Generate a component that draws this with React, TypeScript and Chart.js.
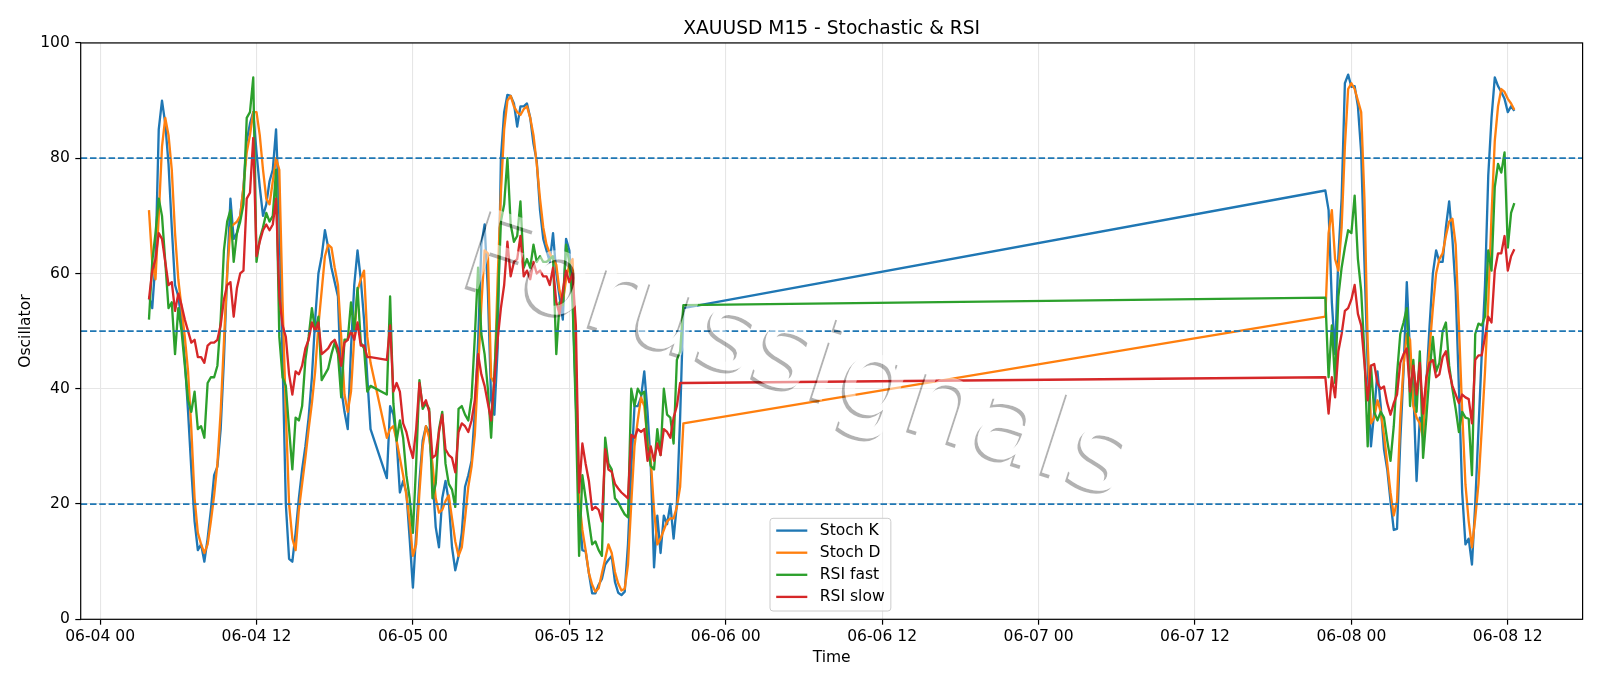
import React, { useEffect, useRef } from "react";
import { Chart, registerables } from "chart.js";

Chart.register(...registerables);

const FONT = '"DejaVu Sans", "Liberation Sans", sans-serif';

const TITLE = "XAUUSD M15 - Stochastic & RSI";
const X_LABEL = "Time";
const Y_LABEL = "Oscillator";
const WATERMARK = "Forussignals";

// M15 bars: each segment starts at this time and steps 15 minutes
const segmentStarts = ["06-04 03:45", "06-04 22:00", "06-07 22:00"];

const xTickHours = [0, 12, 24, 36, 48, 60, 72, 84, 96, 108];
const xTickLabels = [
  "06-04 00", "06-04 12", "06-05 00", "06-05 12", "06-06 00",
  "06-06 12", "06-07 00", "06-07 12", "06-08 00", "06-08 12",
];
const refLevels = [20, 50, 80];

// Stoch K
const kSeg1 = [
  56, 54, 62, 85, 90, 86, 79, 68, 58, 56,
  52, 45, 36, 26, 17, 12, 13, 10, 14, 19,
  25, 26.5, 33, 45, 60, 73, 66, 67, 70, 75,
  83, 86, 88, 81, 75, 70, 72, 76, 78, 85,
  70, 45, 20, 10.5, 10, 15, 21, 26, 30, 35,
  42, 52, 60, 63, 67.5, 64.5, 61, 58.5, 56, 40,
  36, 33, 47, 58, 64, 59, 52, 42, 33,
];
const kSeg2 = [
  24.5, 37, 35.5, 31, 22, 24, 22, 14, 5.5, 15,
  24, 31, 33.5, 32.5, 25, 16, 12.5, 21, 24, 20.5,
  12.5, 8.5, 11, 15, 23, 25, 27.5, 36, 48, 65,
  68.5, 57, 38, 35.5, 47, 80, 88, 91, 90.8, 89.5,
  85.5, 89, 89, 89.5, 87, 82.5, 79.5, 71, 66, 64,
  62, 67, 60, 56, 52, 66, 64, 56, 38, 20,
  12, 11.8, 8, 4.5, 4.5, 6, 7, 9.5, 10.3, 11,
  6.5, 4.6, 4.2, 4.8, 13, 26, 37, 37, 38.5, 43,
  36, 26.6, 9, 18, 11.5, 18, 16.5, 20, 14, 20,
  35, 54,
];
const kSeg3 = [
  74.4, 71, 55, 46, 63, 73, 93, 94.5, 92.4, 92.5,
  89, 81, 62, 44, 30, 36, 43, 37, 29.5, 26,
  20.5, 15.5, 15.7, 31, 43, 58.5, 46, 40, 24, 35,
  33.5, 41, 51, 60, 64, 62, 62, 68, 72.5, 66,
  57, 40, 22, 13, 14, 9.5, 20, 33, 46, 58,
  77, 87, 94, 92.5, 91.5, 90.3, 88, 89, 88.2,
];

// Stoch D
const dSeg1 = [
  71, 62, 59, 70, 82, 87, 84, 78, 67, 59,
  54, 49, 43, 33, 21, 15, 13, 11.5, 13, 17,
  21.5, 27, 36, 48, 60, 68, 68.5, 69, 70, 75,
  81, 84, 88, 88, 84, 78, 73, 72, 76, 80,
  78, 55, 36, 20, 14, 12, 19, 23.5, 28, 33,
  37.5, 43, 51, 57, 63, 65, 64.5, 61, 58, 49,
  39, 36, 39.5, 49, 57, 59, 60.5, 49, 44.5,
];
const dSeg2 = [
  31.5, 33, 33.5, 31, 28, 25, 21.5, 17, 11, 13,
  22, 30, 33.5, 31.5, 27, 21, 18.5, 19, 20.5, 21.5,
  17.5, 13.5, 11, 12.5, 17.5, 23, 26.5, 32, 43, 54.5,
  64, 63.5, 42, 41, 59, 74, 85, 90, 90.8, 89,
  88, 87.5, 88.5, 89, 87, 84, 79, 73, 68, 65,
  63.5, 62.5, 61.5, 57, 55, 59, 61.5, 62.5, 45, 21,
  15.5, 12, 8, 6, 4.8, 5.4, 8, 10.5, 13, 11.5,
  8.2, 6.2, 5, 5.3, 9.5, 20, 30, 34.5, 38.5, 37,
  31, 27.5, 19, 13, 14, 15.5, 17, 17.5, 17.5, 19.5,
  23, 34,
];
const dSeg3 = [
  52.5, 67, 71, 62.5, 60.5, 68, 82, 92, 93, 92,
  90, 88, 73, 48, 34, 35, 38, 36, 32, 27,
  22, 18, 20.5, 35, 44, 49.5, 48.5, 37, 35, 34,
  31.5, 41, 47, 54, 60, 62.5, 63.5, 66.5, 69, 69.5,
  65, 51, 36, 23.4, 17, 12.5, 17.5, 23.5, 33, 43,
  55, 70, 83, 89, 92, 91.5, 90.3, 89.5, 88.4,
];

// RSI fast
const fSeg1 = [
  52, 62, 67, 73, 70, 62, 54, 55, 46, 54,
  50, 44, 38, 36, 39.5, 33, 33.5, 31.5, 41, 42,
  42, 44, 52, 64, 69, 71, 62, 67, 69, 72,
  87, 88, 94, 62, 66, 68, 70.5, 69, 70, 78,
  49, 42, 40.5, 33, 26, 35, 34.5, 37, 45, 49,
  54, 50, 52.5, 41.5, 42.5, 43.5, 46, 48, 46, 38.5,
  48.5, 48.5, 55, 50, 57.5, 48, 47, 39.5, 40.5,
];
const fSeg2 = [
  39, 56, 37.5, 31, 34.5, 31.5, 25, 21, 15, 27,
  41.5, 36.5, 37.5, 36.5, 21, 23.5, 33, 36, 27, 23.5,
  22.5, 19.5, 36.5, 37, 35.5, 34.5, 38.5, 49, 61, 49.5,
  46, 40, 31.5, 42.5, 54, 69, 72, 80, 68.5, 65.5,
  66.5, 72.5, 61, 62.5, 61, 65, 62, 63, 62, 62,
  62.5, 63, 46, 55, 54.5, 65, 62, 55, 36, 11,
  25, 21, 17, 13, 13.5, 12, 11, 31.5, 27, 26,
  21, 20.3, 19.2, 18.2, 17.7, 40, 37, 40, 39, 39.5,
  30, 26.6, 26, 33, 28.5, 40, 35.5, 35, 30.5, 45,
  46.5, 54.5,
];
const fSeg3 = [
  55.8, 42, 51, 41, 56, 61, 64.5, 67.5, 67, 73.5,
  62.5, 57, 46, 30, 44, 36, 34.5, 36, 35, 31,
  27.5, 33.5, 42.5, 49.5, 51.5, 54, 37, 45, 36, 46.5,
  28, 35, 43, 49, 43, 44.5, 50, 51.5, 44, 40,
  36.5, 32.5, 36, 35, 34.8, 25, 49.5, 51.3, 51, 52.5,
  64, 60.5, 75, 79, 77.5, 81, 64.5, 70.5, 72.2,
];

// RSI slow
const sSeg1 = [
  55.5, 60.5, 62.5, 67, 66, 62, 58, 58.5, 53.5, 56.5,
  54.5, 52, 50, 48, 48.5, 45.5, 45.5, 44.5, 47.5, 48,
  48, 48.5, 51, 55.5, 58, 58.5, 52.5, 57.5, 60, 60.5,
  73, 74, 83.5, 63, 65.5, 67.5, 68.5, 67.5, 68.5, 73,
  56, 51, 49, 42.5, 39, 43, 42.5, 44, 47, 48.5,
  51.5, 50, 51.5, 46, 46.5, 47, 48, 48.5, 47, 44,
  48, 48.5, 50, 48.5, 51.5, 47.5, 47.5, 45.5, 45.5,
];
const sSeg2 = [
  45, 51, 39.5, 41, 39.5, 34, 32.5, 30, 28, 33,
  41, 37, 38, 36, 28, 28.5, 32.5, 35.5, 29.5, 28.5,
  28, 25.5, 32.5, 34, 33.5, 32.5, 34.5, 38, 46, 42.5,
  40.5, 37.5, 34.5, 41.5, 48.5, 54, 58, 65.5, 59.5, 62,
  62.5, 66.5, 59.5, 60.5, 59, 62, 60, 60.5, 59.5, 59.5,
  58, 61, 55, 53, 57, 60.5, 58.5, 60, 51, 22,
  30.5, 27, 24, 19, 19.5, 19, 17, 29.5, 26, 25.6,
  23.5, 22.7, 22, 21.5, 21, 32, 31.5, 33, 32.5, 33,
  27.5, 30, 27.5, 30.5, 28.5, 33, 32.5, 31.5, 35, 37,
  41, 41,
];
const sSeg3 = [
  42, 35.7, 42, 38.5, 46.5, 49.5, 53.5, 54, 55.5, 58,
  53, 51, 44.5, 38, 44, 44.3, 41, 40, 40.4, 37.5,
  35.5, 37.5, 39, 44.5, 46, 47, 39.5, 44, 39, 44.5,
  35.7, 42, 44.5, 45, 42, 42.5, 45.5, 46.5, 43, 40.5,
  39, 37.5, 39, 38.5, 38.2, 34, 45, 45.8, 45.8, 49,
  52.5, 51.5, 60.5, 63.5, 63.5, 66.5, 60.5, 63, 64.2,
];

const seriesNames = ["Stoch K", "Stoch D", "RSI fast", "RSI slow"];
const seriesColors = ["#1f77b4", "#ff7f0e", "#2ca02c", "#d62728"];
const seriesSegments = [
  [kSeg1, kSeg2, kSeg3],
  [dSeg1, dSeg2, dSeg3],
  [fSeg1, fSeg2, fSeg3],
  [sSeg1, sSeg2, sSeg3],
];

function hoursFromLabel(label: string): number {
  const [md, hm] = label.split(" ");
  const day = parseInt(md.split("-")[1], 10);
  const [h, m] = hm.split(":").map(Number);
  return (day - 4) * 24 + h + m / 60;
}

function buildPoints(segs: number[][]) {
  const pts: { x: number; y: number }[] = [];
  segs.forEach((vals, s) => {
    const start = hoursFromLabel(segmentStarts[s]);
    vals.forEach((v, k) => pts.push({ x: start + k * 0.25, y: v }));
  });
  return pts;
}

const TICK_FS = 15.56;
const TITLE_FS = 18.67;

const overlayPlugin = {
  id: "overlay",
  afterDatasetsDraw(chart: any) {
    const { ctx, chartArea: ca, scales } = chart;
    const w = ca.right - ca.left;
    const h = ca.bottom - ca.top;

    // reference dashed lines
    ctx.save();
    ctx.beginPath();
    ctx.rect(ca.left, ca.top, w, h);
    ctx.clip();
    ctx.strokeStyle = "#1f77b4";
    ctx.lineWidth = 1.7;
    ctx.setLineDash([6.5, 2.8]);
    for (const lv of refLevels) {
      const y = scales.y.getPixelForValue(lv);
      ctx.beginPath();
      ctx.moveTo(ca.left, y);
      ctx.lineTo(ca.right, y);
      ctx.stroke();
    }
    ctx.restore();

    // watermark with shadow
    const cx = 796;
    const cy = 362;
    const ang = (18 * Math.PI) / 180;
    const wmFont = `112px ${FONT}`;
    const off = document.createElement("canvas");
    off.width = chart.width;
    off.height = chart.height;
    const o = off.getContext("2d")!;
    o.font = wmFont;
    o.textAlign = "center";
    o.textBaseline = "middle";
    o.save();
    o.translate(cx - 3, cy + 3);
    o.rotate(ang);
    o.fillStyle = "rgba(0,0,0,0.3)";
    o.fillText(WATERMARK, 0, 0);
    o.restore();
    o.globalCompositeOperation = "destination-out";
    o.save();
    o.translate(cx, cy);
    o.rotate(ang);
    o.fillStyle = "#000";
    o.fillText(WATERMARK, 0, 0);
    o.restore();
    ctx.drawImage(off, 0, 0);
    ctx.save();
    ctx.translate(cx, cy);
    ctx.rotate(ang);
    ctx.font = wmFont;
    ctx.textAlign = "center";
    ctx.textBaseline = "middle";
    ctx.fillStyle = "rgba(255,255,255,0.5)";
    ctx.fillText(WATERMARK, 0, 0);
    ctx.restore();

    // spines
    ctx.save();
    ctx.strokeStyle = "#000";
    ctx.lineWidth = 1.2;
    ctx.strokeRect(ca.left, ca.top, w, h);
    ctx.restore();

    // title
    ctx.save();
    ctx.font = `${TITLE_FS}px ${FONT}`;
    ctx.fillStyle = "#000";
    ctx.textAlign = "center";
    ctx.textBaseline = "alphabetic";
    ctx.fillText(TITLE, (ca.left + ca.right) / 2, ca.top - 9.3);
    ctx.restore();

    // legend
    ctx.save();
    ctx.font = `${TICK_FS}px ${FONT}`;
    const bx = 770;
    const by = 518.3;
    const bh = 92.7;
    const handleX0 = 776.2;
    const handleX1 = 807.3;
    const textX = 819.8;
    const rowY = [530.6, 552.7, 574.8, 596.9];
    let maxW = 0;
    seriesNames.forEach((n) => (maxW = Math.max(maxW, ctx.measureText(n).width)));
    const bw = textX + maxW + 6.2 - bx;
    ctx.beginPath();
    ctx.roundRect(bx, by, bw, bh, 3);
    ctx.fillStyle = "rgba(255,255,255,0.8)";
    ctx.fill();
    ctx.strokeStyle = "#cccccc";
    ctx.lineWidth = 1;
    ctx.stroke();
    seriesNames.forEach((n, i) => {
      ctx.strokeStyle = seriesColors[i];
      ctx.lineWidth = 2.33;
      ctx.beginPath();
      ctx.moveTo(handleX0, rowY[i]);
      ctx.lineTo(handleX1, rowY[i]);
      ctx.stroke();
      ctx.fillStyle = "#000";
      ctx.textAlign = "left";
      ctx.textBaseline = "middle";
      ctx.fillText(n, textX, rowY[i] + 0.5);
    });
    ctx.restore();
  },
};

export default function App() {
  const ref = useRef<HTMLCanvasElement>(null);
  useEffect(() => {
    document.body.style.margin = "0";
    const canvas = ref.current!;
    Chart.defaults.font.family = FONT;
    const tickFont = { family: FONT, size: TICK_FS, lineHeight: 1.2 };
    const chart = new Chart(canvas, {
      type: "line",
      data: {
        datasets: seriesNames.map((name, i) => ({
          label: name,
          data: buildPoints(seriesSegments[i]),
          borderColor: seriesColors[i],
          backgroundColor: seriesColors[i],
          borderWidth: 2.33,
          pointRadius: 0,
          tension: 0,
          fill: false,
          order: 3 - i,
          borderJoinStyle: "round" as const,
          borderCapStyle: "butt" as const,
        })),
      },
      options: {
        animation: false,
        responsive: false,
        devicePixelRatio: 1,
        layout: { padding: { top: 42.94, right: 17.4, bottom: 0, left: 0 } },
        plugins: {
          legend: { display: false },
          tooltip: { enabled: false },
          title: { display: false },
        },
        scales: {
          x: {
            type: "linear",
            min: -1.4875,
            max: 113.7375,
            afterBuildTicks: (s: any) => {
              s.ticks = xTickHours.map((v) => ({ value: v }));
            },
            afterFit: (s: any) => {
              s.height = 66.7;
            },
            ticks: {
              autoSkip: false,
              maxRotation: 0,
              color: "#000",
              font: tickFont,
              padding: 3,
              callback: (v: any) => {
                const k = xTickHours.indexOf(Number(v));
                return k >= 0 ? xTickLabels[k] : "";
              },
            },
            grid: {
              color: "#e6e6e6",
              lineWidth: 1.1,
              tickColor: "#000",
              tickLength: 5.4,
              tickWidth: 1.2,
            },
            border: { display: false },
            title: {
              display: true,
              text: X_LABEL,
              color: "#000",
              font: tickFont,
              padding: { top: 0, bottom: 18.7 },
            },
          },
          y: {
            type: "linear",
            min: 0,
            max: 100,
            afterFit: (s: any) => {
              s.width = 80.7;
            },
            ticks: {
              stepSize: 20,
              color: "#000",
              font: tickFont,
              padding: 5.4,
            },
            grid: {
              color: "#e6e6e6",
              lineWidth: 1.1,
              tickColor: "#000",
              tickLength: 5.4,
              tickWidth: 1.2,
            },
            border: { display: false },
            title: {
              display: true,
              text: Y_LABEL,
              color: "#000",
              font: tickFont,
              padding: { top: 17, bottom: 0 },
            },
          },
        },
      },
      plugins: [overlayPlugin],
    });
    return () => chart.destroy();
  }, []);
  return (
    <div style={{ width: 1600, height: 686 }}>
      <canvas ref={ref} width={1600} height={686} style={{ display: "block" }} />
    </div>
  );
}
